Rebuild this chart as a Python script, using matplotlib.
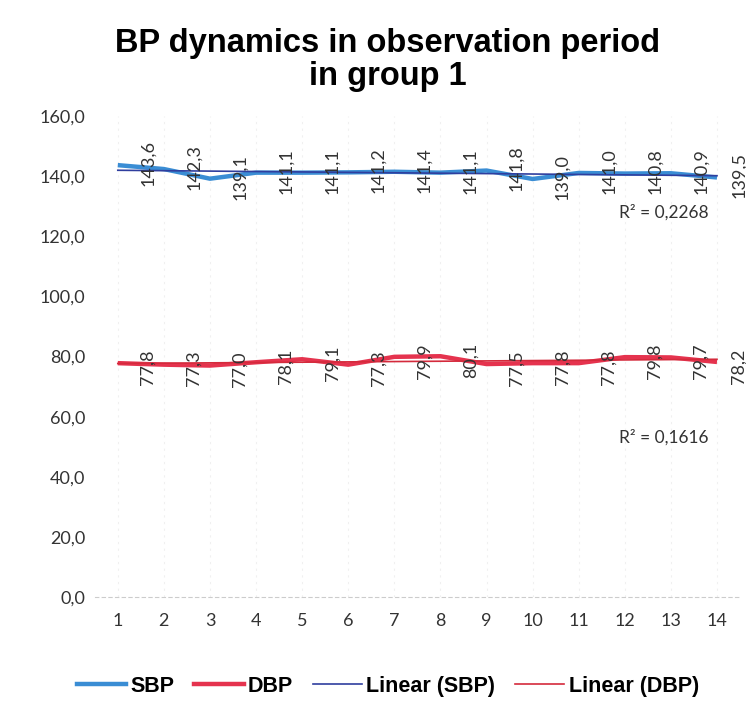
import numpy as np
import matplotlib
matplotlib.use("Agg")
import matplotlib.pyplot as plt

visits = list(range(1, 15))
sbp = [143.6, 142.3, 139.1, 141.1, 141.1, 141.2, 141.4, 141.1, 141.8, 139.0, 141.0, 140.8, 140.9, 139.5]
dbp = [77.8, 77.3, 77.0, 78.1, 79.1, 77.3, 79.9, 80.1, 77.5, 77.8, 77.8, 79.8, 79.7, 78.2]
r2_sbp = "R² = 0,2268"
r2_dbp = "R² = 0,1616"
y_ticks = [0, 20, 40, 60, 80, 100, 120, 140, 160]


def comma(v: float) -> str:
    return f"{v:.1f}".replace(".", ",")


def main():
    fig = plt.figure(figsize=(7.46, 7.06), dpi=100)
    ax = fig.add_axes([0.127, 0.154, 0.865, 0.682])

    x = np.array(visits)
    blue = "#3A8DD4"
    red = "#E5334E"

    # trend lines
    k1, b1 = np.polyfit(x, sbp, 1)
    k2, b2 = np.polyfit(x, dbp, 1)
    ax.plot(x, k1 * x + b1, color="#2F3E9E", lw=1.2, zorder=3)
    ax.plot(x, k2 * x + b2, color="#D42A3C", lw=1.2, zorder=3)

    ax.plot(x, sbp, color=blue, lw=3.2, solid_capstyle="butt", solid_joinstyle="round", zorder=2)
    ax.plot(x, dbp, color=red, lw=3.2, solid_capstyle="butt", solid_joinstyle="round", zorder=2)

    # data labels, rotated, right of each point (last one pulled in to stay inside)
    n = len(visits)
    for i, (xi, v) in enumerate(zip(x, sbp)):
        dx = 30 if i < n - 1 else 22
        ax.annotate(comma(v), (xi, v), xytext=(dx, 2), textcoords="offset pixels",
                    rotation=90, ha="center", va="center", fontsize=13,
                    family="Lato", color="#333333", zorder=4)
    for i, (xi, v) in enumerate(zip(x, dbp)):
        dx = 30 if i < n - 1 else 22
        ax.annotate(comma(v), (xi, v), xytext=(dx, -4), textcoords="offset pixels",
                    rotation=90, ha="center", va="center", fontsize=13,
                    family="Lato", color="#333333", zorder=4)

    ax.text(12.85, 128, r2_sbp, ha="center", va="center", fontsize=12.5, family="Lato", color="#333333")
    ax.text(12.85, 53.2, r2_dbp, ha="center", va="center", fontsize=12.5, family="Lato", color="#333333")

    ax.set_xlim(0.5, 14.5)
    ax.set_ylim(0, 160)
    ax.set_xticks(visits)
    ax.set_xticklabels([str(v) for v in visits], family="Lato", fontsize=13, color="#333333")
    ax.set_yticks(y_ticks)
    ax.set_yticklabels([comma(v) for v in y_ticks], family="Lato", fontsize=13, color="#333333")
    ax.tick_params(length=0)
    ax.tick_params(axis="x", pad=11)
    ax.tick_params(axis="y", pad=7)

    for side in ["top", "right", "left"]:
        ax.spines[side].set_visible(False)
    ax.spines["bottom"].set_color("#cccccc")
    ax.spines["bottom"].set_linestyle((0, (3, 3)))
    ax.grid(axis="x", color="#f0f0f0", lw=0.8, ls=(0, (2, 4)))

    fig.text(0.52, 0.915, "BP dynamics in observation period\nin group 1", ha="center", va="center",
             fontsize=23.5, fontweight="bold", family="Liberation Sans", linespacing=1.1)

    handles = [
        plt.Line2D([], [], color=blue, lw=3.2),
        plt.Line2D([], [], color=red, lw=3.2),
        plt.Line2D([], [], color="#2F3E9E", lw=1.2),
        plt.Line2D([], [], color="#D42A3C", lw=1.2),
    ]
    labels = ["SBP", "DBP", "Linear (SBP)", "Linear (DBP)"]
    fig.legend(handles, labels, loc="center", bbox_to_anchor=(0.52, 0.028), ncol=4,
               frameon=False, handlelength=2.3, handletextpad=0.2, columnspacing=0.9,
               prop={"family": ["Liberation Sans Narrow", "Liberation Sans"], "weight": "bold", "size": 15.5})

    fig.savefig("out.png", dpi=100)
    plt.close(fig)


if __name__ == "__main__":
    main()
